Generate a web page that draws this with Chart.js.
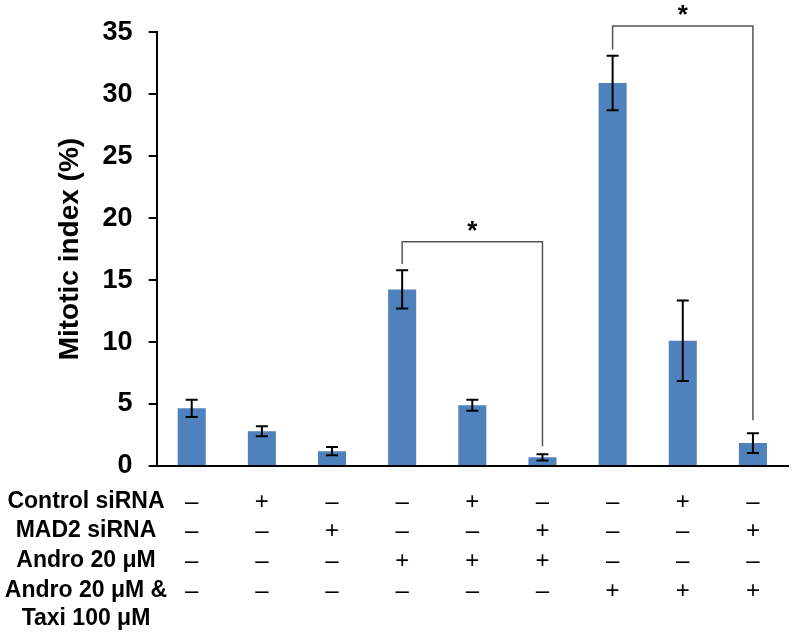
<!DOCTYPE html>
<html>
<head>
<meta charset="utf-8">
<script src="https://cdn.jsdelivr.net/npm/chart.js@4"></script>
<style>
  html, body { margin: 0; padding: 0; background: #fff; }
  #wrap { width: 793px; height: 636px; position: relative; }
</style>
</head>
<body>
<div id="wrap"><canvas id="myBarChart" width="793" height="636"></canvas></div>
<script>
// values
var groups = ['1', '2', '3', '4', '5', '6', '7', '8', '9'];
var mitoticIndex = [4.65, 2.8, 1.2, 14.25, 4.9, 0.7, 30.9, 10.1, 1.85];
var errors = [0.7, 0.4, 0.33, 1.55, 0.45, 0.25, 2.2, 3.25, 0.8];
var yTicks = [0, 5, 10, 15, 20, 25, 30, 35];

// treatment table under the axis
var rowLabels = [['Control siRNA'], ['MAD2 siRNA'], ['Andro 20 μM'], ['Andro 20 μM &', 'Taxi 100 μM']];
var controlSi = ['–', '+', '–', '–', '+', '–', '–', '+', '–'];
var mad2Si = ['–', '–', '+', '–', '–', '+', '–', '–', '+'];
var andro = ['–', '–', '–', '+', '+', '+', '–', '–', '–'];
var androTaxi = ['–', '–', '–', '–', '–', '–', '+', '+', '+'];

// significance brackets: from bar, to bar, top, left leg end, right leg end
var brackets = [
    { from: 3, to: 5, top: 18.1, left: 16.3, right: 1.6 },
    { from: 6, to: 8, top: 35.5, left: 33.6, right: 3.7 }
];

var extras = {
    id: 'extras',
    afterDatasetsDraw: function (chart) {
        var ctx = chart.ctx;
        var x = chart.scales.x, y = chart.scales.y;
        ctx.save();

        // error bars
        ctx.strokeStyle = '#000';
        ctx.lineWidth = 2;
        mitoticIndex.forEach(function (v, i) {
            var cx = x.getPixelForValue(i);
            var hi = y.getPixelForValue(v + errors[i]);
            var lo = y.getPixelForValue(v - errors[i]);
            ctx.beginPath();
            ctx.moveTo(cx, hi); ctx.lineTo(cx, lo);
            ctx.moveTo(cx - 6, hi); ctx.lineTo(cx + 6, hi);
            ctx.moveTo(cx - 6, lo); ctx.lineTo(cx + 6, lo);
            ctx.stroke();
        });

        // brackets + stars
        ctx.strokeStyle = '#555';
        ctx.lineWidth = 1.5;
        ctx.fillStyle = '#000';
        ctx.font = 'bold 26px "Liberation Sans", Arial, sans-serif';
        ctx.textAlign = 'center';
        ctx.textBaseline = 'middle';
        brackets.forEach(function (b) {
            var x1 = x.getPixelForValue(b.from), x2 = x.getPixelForValue(b.to);
            var top = y.getPixelForValue(b.top);
            ctx.beginPath();
            ctx.moveTo(x1, y.getPixelForValue(b.left));
            ctx.lineTo(x1, top);
            ctx.lineTo(x2, top);
            ctx.lineTo(x2, y.getPixelForValue(b.right));
            ctx.stroke();
            ctx.fillText('*', (x1 + x2) / 2, top - 10);
        });

        // table
        var rows = [controlSi, mad2Si, andro, androTaxi];
        var rowY = [502, 531, 561, 591];
        ctx.font = 'bold 23px "Liberation Sans", Arial, sans-serif';
        rowLabels.forEach(function (lines, r) {
            lines.forEach(function (t, k) {
                ctx.fillText(t, 86, rowY[r] + k * 28);
            });
        });
        ctx.font = '24px "Liberation Sans", Arial, sans-serif';
        rows.forEach(function (signs, r) {
            signs.forEach(function (s, i) {
                ctx.fillText(s, x.getPixelForValue(i), rowY[r]);
            });
        });
        ctx.restore();
    }
};

var ctx = document.getElementById('myBarChart').getContext('2d');
var myBarChart = new Chart(ctx, {
    type: 'bar',
    data: {
        labels: groups,
        datasets: [{
            data: mitoticIndex,
            backgroundColor: '#4F81BD',
            barPercentage: 0.4,
            categoryPercentage: 1.0
        }]
    },
    options: {
        responsive: false,
        animation: false,
        layout: { padding: { left: 53, top: 31, right: 5, bottom: 162 } },
        plugins: { legend: { display: false }, tooltip: { enabled: false } },
        scales: {
            x: {
                ticks: { display: false },
                grid: { display: false },
                border: { display: true, color: '#000', width: 2 }
            },
            y: {
                min: 0,
                max: 35,
                afterBuildTicks: function (scale) {
                    scale.ticks = yTicks.map(function (v) { return { value: v }; });
                },
                ticks: {
                    color: '#000',
                    padding: 16,
                    font: { family: '"Liberation Sans", Arial, sans-serif', size: 27, weight: 'bold' }
                },
                grid: { drawOnChartArea: false, drawTicks: true, tickLength: 8, color: '#000', lineWidth: 2 },
                border: { display: true, color: '#000', width: 2 },
                title: {
                    display: true,
                    text: 'Mitotic index (%)',
                    color: '#000',
                    padding: { top: 0, bottom: 0 },
                    font: { family: '"Liberation Sans", Arial, sans-serif', size: 28, weight: 'bold' }
                }
            }
        }
    },
    plugins: [extras]
});
</script>
</body>
</html>
